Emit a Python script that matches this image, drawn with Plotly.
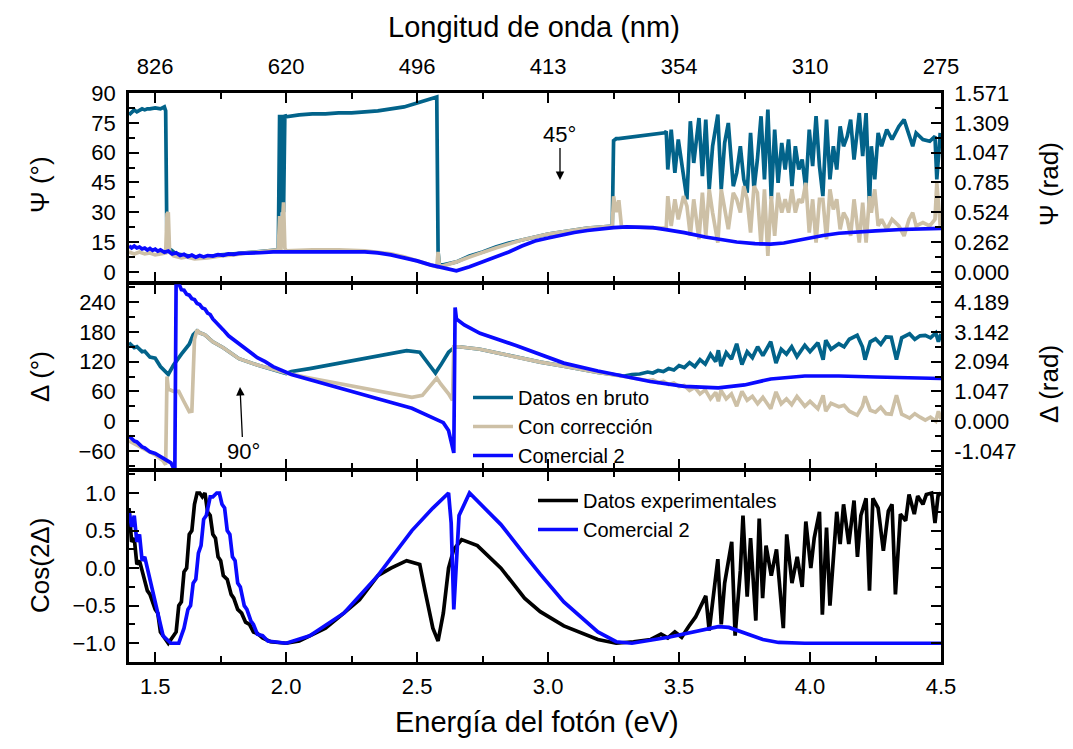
import plotly.graph_objects as go
import math

# ---------------- data ----------------
# Top panel: Psi (degrees)
psi_raw_E = [1.40, 1.41, 1.42, 1.43, 1.44, 1.45, 1.46, 1.47, 1.48, 1.50, 1.52, 1.535, 1.54, 1.545, 1.55,
             1.56, 1.58, 1.60, 1.65, 1.70, 1.75, 1.80, 1.85, 1.90, 1.95, 1.97, 1.975, 1.98, 1.985, 1.99, 1.995,
             2.00, 2.05, 2.10, 2.15, 2.20, 2.25, 2.30, 2.35, 2.40, 2.45, 2.50, 2.55, 2.575, 2.58, 2.585,
             2.60, 2.65, 2.70, 2.75, 2.80, 2.85, 2.90, 2.95, 3.00, 3.05, 3.10, 3.15, 3.20, 3.245, 3.25,
             3.26, 3.27, 3.30, 3.35, 3.40, 3.445,
             3.451, 3.457, 3.470, 3.484, 3.497, 3.517, 3.530, 3.543, 3.556, 3.576, 3.589, 3.602, 3.615, 3.628,
             3.648, 3.661, 3.674, 3.688, 3.707, 3.720, 3.734, 3.747, 3.760, 3.773, 3.786, 3.799, 3.813, 3.826,
             3.839, 3.852, 3.865, 3.878, 3.892, 3.905, 3.918, 3.931, 3.944, 3.957, 3.970, 3.984, 3.997, 4.010,
             4.023, 4.036, 4.049, 4.063, 4.076, 4.089, 4.102, 4.115, 4.128, 4.142, 4.155, 4.168, 4.188, 4.201,
             4.214, 4.227, 4.234, 4.247, 4.260, 4.273, 4.293, 4.313, 4.339, 4.359, 4.378, 4.392, 4.405, 4.431,
             4.457, 4.477, 4.484, 4.497]
psi_raw = [79, 80, 81.5, 80.5, 81, 82, 81.5, 82, 82, 82.5, 82, 83, 81, 12, 11,
           11, 9, 8.5, 7.5, 7.5, 8.5, 9, 9.5, 10, 10.5, 11, 79, 30, 79, 30, 79,
           78, 79, 79.5, 79.5, 80, 80, 80.5, 81, 82, 83, 85, 87, 88, 10, 3.5,
           3.5, 5, 8, 10, 12.5, 14.5, 16, 17.5, 19, 20, 21, 22, 22.5, 23, 66,
           67, 67, 67.5, 68, 69, 70,
           70.7, 51.5, 71.6, 49.8, 66.6, 46.5, 36.5, 75.8, 54.8, 77.4, 48.2, 76.6, 41.5, 63.2,
           79.1, 41.5, 64.9, 74.9, 43.1, 49.8, 63.2, 46.5, 39.8, 69.9, 41.5, 56.5, 78.3, 46.5,
           81.6, 36.5, 71.6, 44.8, 64.9, 51.5, 66.6, 43.1, 63.2, 51.5, 56.5, 41.5, 71.6, 53.2,
           78.3, 53.2, 38.1, 76.6, 46.5, 63.2, 51.5, 73.2, 63.2, 68.2, 76.6, 56.5, 79.9, 58.2,
           79.9, 33.1, 63.2, 46.5, 69.9, 63.2, 71.6, 66.6, 73.2, 76.6, 68.2, 63.2, 69.9, 66.6,
           65.7, 68.2, 46.5, 69.9]

psi_cor_E = [1.40, 1.42, 1.44, 1.46, 1.48, 1.50, 1.52, 1.54, 1.545, 1.55, 1.555, 1.57, 1.60, 1.62, 1.65,
             1.70, 1.75, 1.80, 1.85, 1.90, 1.95, 1.97, 1.975, 1.98, 1.99, 1.995, 2.00, 2.10, 2.20, 2.30,
             2.40, 2.45, 2.50, 2.55, 2.575, 2.58, 2.585, 2.60, 2.65, 2.70, 2.75, 2.80, 2.85, 2.90, 2.95,
             3.00, 3.05, 3.10, 3.15, 3.20, 3.245, 3.25, 3.26, 3.27, 3.28, 3.30, 3.35, 3.40, 3.445,
             3.451, 3.457, 3.470, 3.484, 3.497, 3.517, 3.530, 3.543, 3.556, 3.576, 3.589, 3.602, 3.615, 3.628,
             3.648, 3.661, 3.674, 3.688, 3.707, 3.720, 3.734, 3.747, 3.760, 3.773, 3.786, 3.799, 3.813, 3.826,
             3.839, 3.852, 3.865, 3.878, 3.892, 3.905, 3.918, 3.931, 3.944, 3.957, 3.970, 3.984, 3.997, 4.010,
             4.023, 4.036, 4.049, 4.063, 4.076, 4.089, 4.102, 4.115, 4.128, 4.142, 4.155, 4.168, 4.188, 4.201,
             4.214, 4.227, 4.234, 4.247, 4.260, 4.273, 4.293, 4.313, 4.339, 4.359, 4.378, 4.392, 4.405, 4.431,
             4.457, 4.477, 4.484, 4.497]
psi_cor = [10, 9, 10, 9, 9.5, 8.5, 9, 9.5, 29, 30, 10, 8, 7, 7.5, 6.5,
           7, 8, 8.5, 9.5, 10, 10.5, 11, 28, 11, 35, 12, 10.5, 11, 11, 10.5,
           9, 7.5, 5.5, 3.5, 2.5, 10, 3, 3, 5, 7.5, 10, 12, 14, 16, 17.5,
           19, 20, 21, 22, 22.5, 23, 38, 30, 36, 23, 22.5, 22.5, 22, 22,
           22, 38.1, 23.1, 36.5, 26.4, 38.1, 33.1, 18.1, 36.5, 16.4, 39.8, 18.1, 41.5, 29.8,
           14.7, 41.5, 31.4, 21.4, 39.8, 36.5, 29.8, 43.1, 36.5, 19.7, 43.1, 39.8, 13.0, 41.5,
           8.0, 38.1, 18.1, 39.8, 29.8, 36.5, 29.8, 41.5, 29.8, 36.5, 34.8, 44.8, 19.7, 36.5,
           14.7, 36.5, 36.5, 16.4, 41.5, 31.4, 36.5, 21.4, 29.8, 26.4, 18.1, 36.5, 14.7, 34.8,
           14.7, 38.1, 29.8, 41.5, 23.1, 26.4, 21.4, 26.4, 23.1, 18.1, 26.4, 29.8, 23.1, 24.8,
           23.1, 26.4, 44.8, 23.1]

psi_com_E = [1.40, 1.41, 1.42, 1.43, 1.44, 1.45, 1.46, 1.47, 1.48, 1.49, 1.50, 1.51, 1.52, 1.535, 1.55,
             1.565, 1.58, 1.595, 1.61, 1.625, 1.64, 1.655, 1.67, 1.685, 1.70, 1.72, 1.74, 1.76, 1.78,
             1.80, 1.82, 1.85, 1.90, 1.95, 2.00, 2.10, 2.20, 2.30, 2.35, 2.40, 2.45, 2.50, 2.55, 2.60,
             2.65, 2.70, 2.75, 2.80, 2.85, 2.90, 2.95, 3.00, 3.05, 3.10, 3.15, 3.20, 3.25, 3.30, 3.35,
             3.40, 3.45, 3.52, 3.60, 3.65, 3.72, 3.79, 3.85, 3.90, 3.98, 4.05, 4.11, 4.20, 4.25, 4.35,
             4.45, 4.50]
psi_com = [13, 12, 13, 12, 12.5, 11.5, 12, 11, 11.8, 10.8, 11.4, 10.4, 11, 9.8, 10.4,
           9, 9.6, 8.2, 8.8, 7.6, 8.4, 7.4, 8.2, 7.5, 8.2, 7.9, 8.6, 8.3, 9,
           8.8, 9.3, 9.3, 9.6, 10, 10, 10.3, 10.3, 10, 9.5, 8.5, 7, 5.5, 3.5, 2,
           0.5, 2.5, 5, 7.5, 10, 13, 15.5, 17, 18.5, 19.8, 20.8, 21.6, 22.2, 22.6, 22.5,
           22.2, 21.2, 19.7, 17.5, 16.4, 15, 14.2, 13.9, 14.5, 16.7, 18.3, 19.4, 20.3, 20.6, 21.3,
           21.8, 21.9]

# Middle panel: Delta (degrees)
del_raw_E = [1.40, 1.42, 1.43, 1.45, 1.46, 1.48, 1.50, 1.52, 1.55, 1.57, 1.60, 1.63, 1.645, 1.66, 1.67,
             1.69, 1.72, 1.76, 1.82, 1.89, 2.00, 2.02, 2.09, 2.22, 2.35, 2.46, 2.51, 2.55, 2.57, 2.59,
             2.62, 2.645, 2.66, 2.74, 2.88, 2.97, 3.06, 3.19,
             3.29, 3.32, 3.35, 3.38, 3.40, 3.42, 3.44, 3.46, 3.48, 3.50, 3.52, 3.54, 3.56, 3.58, 3.60,
             3.62, 3.64, 3.65, 3.66, 3.68, 3.70, 3.72, 3.74, 3.76, 3.78, 3.80, 3.82, 3.85, 3.87, 3.89,
             3.91, 3.93, 3.95, 3.98, 4.00, 4.03, 4.05, 4.06, 4.08, 4.11, 4.13, 4.15, 4.18, 4.20, 4.21,
             4.23, 4.25, 4.27, 4.29, 4.31, 4.33, 4.35, 4.38, 4.40, 4.42, 4.44, 4.46, 4.48, 4.49, 4.50]
del_raw = [158, 148, 150, 140, 141, 129, 127, 110, 94, 113, 135, 155, 174, 182, 178,
           174, 160, 148, 126, 113, 96, 100, 106, 119, 132, 142, 139, 110, 97, 113,
           139, 150, 150, 145, 129, 119, 111, 98,
           91, 94, 95, 99, 97, 102, 100, 106, 103, 112, 108, 118, 110, 124, 115,
           135, 120, 143, 111, 138, 125, 156, 114, 140, 128, 150, 132, 160, 117, 145,
           135, 150, 130, 153, 140, 158, 124, 163, 145, 156, 150, 165, 173, 150, 124,
           160, 166, 155, 170, 169, 124, 168, 176, 165, 172, 173, 168, 178, 160, 176]

del_cor_E = [1.40, 1.45, 1.50, 1.53, 1.54, 1.545, 1.55, 1.57, 1.59, 1.61, 1.63, 1.64, 1.645, 1.65, 1.66,
             1.67, 1.69, 1.72, 1.76, 1.82, 1.89, 2.00, 2.09, 2.22, 2.35, 2.45, 2.48, 2.52, 2.555, 2.575,
             2.59, 2.62, 2.635, 2.64, 2.66, 2.74, 2.88, 2.97, 3.06, 3.19,
             3.29, 3.32, 3.35, 3.38, 3.40, 3.42, 3.44, 3.46, 3.48, 3.50, 3.52, 3.54, 3.56, 3.58, 3.60,
             3.62, 3.64, 3.65, 3.66, 3.68, 3.70, 3.72, 3.74, 3.76, 3.78, 3.80, 3.82, 3.85, 3.87, 3.89,
             3.91, 3.93, 3.95, 3.98, 4.00, 4.03, 4.05, 4.06, 4.08, 4.11, 4.13, 4.15, 4.18, 4.20, 4.21,
             4.23, 4.25, 4.27, 4.29, 4.31, 4.33, 4.35, 4.38, 4.40, 4.42, 4.44, 4.46, 4.48, 4.49, 4.50]
del_cor = [-40, -55, -68, -80, -88, 90, 65, 60, 60, 39, 19, 20, 110, 165, 184,
           178, 174, 160, 148, 126, 113, 97, 87, 74, 61, 50, 48, 52, 75, 87,
           75, 55, 42, 150, 150, 145, 129, 119, 111, 98,
           90, 87, 84, 82, 83, 78, 80, 74, 77, 70, 72, 62, 68, 55, 63,
           45, 58, 40, 62, 45, 55, 30, 60, 42, 50, 35, 48, 25, 59, 35,
           45, 33, 50, 30, 40, 25, 52, 20, 36, 29, 32, 20, 12, 30, 50,
           22, 18, 28, 15, 14, 52, 14, 6, 15, 8, 2, 8, 0, 20, 4]

del_com_E = [1.40, 1.42, 1.43, 1.45, 1.46, 1.48, 1.50, 1.52, 1.53, 1.56, 1.575, 1.58, 1.60, 1.61, 1.62,
             1.63, 1.64, 1.65, 1.66, 1.67, 1.68, 1.69, 1.70, 1.71, 1.72, 1.74, 1.76, 1.78, 1.79, 1.82,
             1.84, 1.86, 1.89, 1.92, 1.95, 2.02, 2.09, 2.22, 2.35, 2.48, 2.56, 2.60, 2.62, 2.635, 2.64,
             2.645, 2.65, 2.68, 2.74, 2.88, 2.97, 3.06, 3.19, 3.29, 3.39, 3.52, 3.65, 3.75, 3.85, 3.98,
             4.11, 4.25, 4.50]
del_com = [-30, -40, -42, -52, -54, -62, -65, -72, -75, -84, -100, 290, 265, 264, 256,
           254, 247, 245, 237, 235, 228, 226, 218, 215, 206, 196, 184, 172, 168, 154,
           148, 138, 128, 120, 110, 94, 84, 65, 45, 26, 6, -3, -19, -58, -64,
           229, 206, 194, 177, 152, 134, 117, 101, 91, 80, 70, 67, 73, 85, 91,
           91, 89, 86]

# Bottom panel: cos(2 Delta)
cos_exp_E = [1.40, 1.41, 1.42, 1.43, 1.44, 1.45, 1.47, 1.48, 1.50, 1.51, 1.52, 1.53, 1.55, 1.57, 1.58,
             1.59, 1.60, 1.61, 1.62, 1.63, 1.64, 1.65, 1.66, 1.67, 1.68, 1.69, 1.70, 1.71, 1.72, 1.73,
             1.74, 1.75, 1.76, 1.775, 1.79, 1.80, 1.815, 1.83, 1.845, 1.86, 1.875, 1.89, 1.91, 1.94,
             2.00, 2.05, 2.09, 2.15, 2.22, 2.28, 2.35, 2.40, 2.46, 2.51, 2.53, 2.56, 2.58, 2.60,
             2.62, 2.64, 2.67, 2.73, 2.82, 2.91, 2.97, 3.06, 3.19, 3.26, 3.326, 3.392, 3.431, 3.457,
             3.484, 3.510, 3.536, 3.563, 3.602, 3.615, 3.648, 3.661, 3.674, 3.701, 3.714, 3.734, 3.744,
             3.760, 3.773, 3.793, 3.806, 3.819, 3.832, 3.852, 3.872, 3.898, 3.911, 3.931, 3.951, 3.970,
             3.984, 4.003, 4.016, 4.036, 4.047, 4.063, 4.076, 4.089, 4.102, 4.115, 4.128, 4.148, 4.168,
             4.181, 4.194, 4.214, 4.227, 4.240, 4.260, 4.280, 4.299, 4.313, 4.326, 4.345, 4.365, 4.378,
             4.398, 4.411, 4.431, 4.444, 4.464, 4.477, 4.490, 4.50]
cos_exp = [0.8, 0.35, 0.4, 0.05, 0.1, -0.05, -0.3, -0.35, -0.55, -0.6, -0.85, -0.9, -1.0, -0.9, -0.85,
           -0.5, -0.45, -0.05, 0.0, 0.45, 0.5, 0.85, 1.0, 1.0, 0.95, 1.0, 0.75, 0.7, 0.45, 0.4,
           0.15, 0.1, -0.1, -0.15, -0.35, -0.4, -0.55, -0.6, -0.72, -0.75, -0.85, -0.87, -0.93, -0.98,
           -1.0, -0.97, -0.9, -0.8, -0.6, -0.42, -0.1, 0.0, 0.1, 0.05, -0.3, -0.8, -0.97, -0.6,
           0.0, 0.25, 0.38, 0.3, 0.0, -0.4, -0.58, -0.77, -0.95, -1.0, -0.98, -0.95, -0.88, -0.93,
           -0.85, -0.92, -0.78, -0.65, -0.37, -0.83, 0.12, -0.75, -0.2, 0.35, -0.9, -0.03, 0.7,
           -0.38, 0.4, -0.7, 0.66, -0.4, 0.3, -0.1, 0.25, -0.8, 0.45, -0.2, 0.15, -0.25,
           0.62, 0.0, 0.4, 0.75, -0.62, 0.54, -0.5, 0.2, 0.75, 0.32, 0.85, 0.32, 0.9,
           0.15, 0.7, 0.93, -0.3, 0.93, 0.8, 0.23, 0.76, 0.85, -0.35, 0.72, 0.63, 0.98,
           0.72, 0.96, 0.85, 0.98, 1.0, 0.6, 1.0, 0.97]

cos_com_E = [1.40, 1.41, 1.42, 1.43, 1.44, 1.45, 1.46, 1.48, 1.50, 1.51, 1.53, 1.56, 1.59, 1.61, 1.625,
             1.635, 1.645, 1.655, 1.665, 1.675, 1.685, 1.695, 1.71, 1.72, 1.735, 1.745, 1.755, 1.765,
             1.775, 1.785, 1.795, 1.805, 1.815, 1.825, 1.84, 1.85, 1.865, 1.875, 1.89, 1.91, 1.93,
             2.00, 2.09, 2.22, 2.35, 2.48, 2.56, 2.62, 2.63, 2.64, 2.66, 2.70,
             2.82, 2.91, 2.97, 3.06, 3.19, 3.26, 3.32, 3.46, 3.59, 3.65, 3.69, 3.75, 3.82, 3.88, 3.98,
             4.50]
cos_com = [0.75, 0.55, 0.7, 0.35, 0.45, 0.1, 0.15, -0.15, -0.45, -0.6, -0.9, -1.0, -1.0, -0.8, -0.55,
           -0.5, -0.2, -0.15, 0.2, 0.3, 0.65, 0.7, 0.95, 0.95, 1.0, 1.0, 0.85, 0.8,
           0.5, 0.45, 0.15, 0.1, -0.2, -0.25, -0.5, -0.55, -0.7, -0.75, -0.88, -0.9, -0.97,
           -1.0, -0.9, -0.6, -0.1, 0.5, 0.8, 1.0, 0.6, -0.55, 0.7, 1.0,
           0.58, 0.18, -0.08, -0.45, -0.85, -0.98, -1.0, -0.92, -0.82, -0.78, -0.79, -0.86, -0.95, -0.99, -1.0,
           -1.0]

# tick labels
energy_ticks = [1.5, 2.0, 2.5, 3.0, 3.5, 4.0, 4.5]
wavelength_labels = ["826", "620", "496", "413", "354", "310", "275"]
psi_rad_deg = [0, 15, 30, 45, 60, 75, 90]
psi_rad_labels = ["0.000", "0.262", "0.524", "0.785", "1.047", "1.309", "1.571"]
del_rad_deg = [-60, 0, 60, 120, 180, 240]
del_rad_labels = ["-1.047", "0.000", "1.047", "2.094", "3.142", "4.189"]

# ---------------- styling ----------------
FONT = "Liberation Sans, Arial, sans-serif"
C_RAW = "#02638a"
C_COR = "#cdc0a6"
C_COM = "#0a0aff"
LW = 3.7
AXW = 2.5

W, H = 1073, 749
XL, XR = 129 / W, 941 / W
def py(p):
    return 1 - p / H

# panel pixel boundaries (top/bottom of the plotting areas)
Y_TOP = (py(283 - AXW / 2), py(93))
Y_MID = (py(470 - AXW / 2), py(283 + AXW / 2))
Y_BOT = (py(662), py(470 + AXW / 2))
XR_RANGE = [1.4, 4.5]
PSI_RANGE = [-5, 90]
DEL_RANGE = [-96, 276]
COS_RANGE = [-1.25, 1.29]
d2r = math.pi / 180

psi_com_rad = [v * d2r for v in psi_com]
del_com_rad = [v * d2r for v in del_com]

fig = go.Figure()
# top panel
fig.add_trace(go.Scatter(x=psi_raw_E, y=psi_raw, mode="lines", line=dict(color=C_RAW, width=LW),
                         xaxis="x", yaxis="y", showlegend=False))
fig.add_trace(go.Scatter(x=psi_cor_E, y=psi_cor, mode="lines", line=dict(color=C_COR, width=LW),
                         xaxis="x", yaxis="y", showlegend=False))
fig.add_trace(go.Scatter(x=psi_com_E, y=psi_com_rad, mode="lines", line=dict(color=C_COM, width=LW),
                         xaxis="x4", yaxis="y4", showlegend=False))
# middle panel
fig.add_trace(go.Scatter(x=del_raw_E, y=del_raw, mode="lines", line=dict(color=C_RAW, width=LW),
                         xaxis="x2", yaxis="y2", name="Datos en bruto", legend="legend"))
fig.add_trace(go.Scatter(x=del_cor_E, y=del_cor, mode="lines", line=dict(color=C_COR, width=LW),
                         xaxis="x2", yaxis="y2", name="Con corrección", legend="legend"))
fig.add_trace(go.Scatter(x=del_com_E, y=del_com_rad, mode="lines", line=dict(color=C_COM, width=LW),
                         xaxis="x2", yaxis="y5", name="Comercial 2", legend="legend"))
# bottom panel
fig.add_trace(go.Scatter(x=cos_exp_E, y=cos_exp, mode="lines", line=dict(color="black", width=LW),
                         xaxis="x3", yaxis="y3", name="Datos experimentales", legend="legend2"))
fig.add_trace(go.Scatter(x=cos_com_E, y=cos_com, mode="lines", line=dict(color=C_COM, width=LW),
                         xaxis="x3", yaxis="y3", name="Comercial 2", legend="legend2"))

tickfont = dict(family=FONT, size=22, color="black")
minor_x = dict(ticks="inside", ticklen=6, tickwidth=2, tickcolor="black", dtick=0.25, tick0=1.5,
               showgrid=False)
common_x = dict(range=XR_RANGE, domain=[XL, XR], showline=True, linewidth=AXW, linecolor="black",
                mirror="ticks", ticks="inside", ticklen=10, tickwidth=2, tickcolor="black",
                tick0=1.5, dtick=0.5, showgrid=False, zeroline=False, tickfont=tickfont,
                tickformat=".1f", automargin=False, minor=minor_x)
common_y = dict(showline=True, linewidth=AXW, linecolor="black", ticks="inside", ticklen=10,
                tickwidth=2, tickcolor="black", showgrid=False, zeroline=False, tickfont=tickfont,
                ticklabelstandoff=6, automargin=False)

def minor_y(step):
    return dict(ticks="inside", ticklen=6, tickwidth=2, tickcolor="black", dtick=step, tick0=0,
                showgrid=False)

fig.update_layout(
    template="none",
    width=W, height=H, margin=dict(l=0, r=0, t=0, b=0, pad=0), autosize=False,
    paper_bgcolor="white", plot_bgcolor="white",
    font=dict(family=FONT, color="black"),
    xaxis=dict(common_x, anchor="y", showticklabels=False),
    xaxis2=dict(common_x, anchor="y2", showticklabels=False, matches="x"),
    xaxis3=dict(common_x, anchor="y3", showticklabels=True, ticklabelstandoff=3, matches="x"),
    xaxis4=dict(range=XR_RANGE, domain=[XL, XR], overlaying="x", anchor="y", side="top",
                tickmode="array", tickvals=energy_ticks, ticktext=wavelength_labels,
                ticks="", showline=False, showgrid=False, zeroline=False, tickfont=tickfont,
                ticklabelstandoff=14, automargin=False),
    yaxis=dict(common_y, domain=list(Y_TOP), range=PSI_RANGE, anchor="x", tick0=0, dtick=15, mirror=True,
               minor=minor_y(7.5)),
    yaxis4=dict(common_y, overlaying="y", side="right", anchor="x",
                range=[PSI_RANGE[0] * d2r, PSI_RANGE[1] * d2r],
                tickmode="array", tickvals=[v * d2r for v in psi_rad_deg], ticktext=psi_rad_labels,
                minor=minor_y(7.5 * d2r)),
    yaxis2=dict(common_y, domain=list(Y_MID), range=DEL_RANGE, anchor="x2", tick0=0, dtick=60, mirror=True,
                minor=minor_y(30)),
    yaxis5=dict(common_y, overlaying="y2", side="right", anchor="x2",
                range=[DEL_RANGE[0] * d2r, DEL_RANGE[1] * d2r],
                tickmode="array", tickvals=[v * d2r for v in del_rad_deg], ticktext=del_rad_labels,
                minor=minor_y(30 * d2r)),
    yaxis3=dict(common_y, domain=list(Y_BOT), range=COS_RANGE, anchor="x3", tick0=0, dtick=0.5,
                tickformat=".1f", mirror="ticks", minor=minor_y(0.25)),
    legend=dict(x=468 / W, y=py(378), xanchor="left", yanchor="top", bgcolor="rgba(0,0,0,0)",
                borderwidth=0, font=dict(family=FONT, size=20, color="black"), tracegroupgap=0,
                itemwidth=40),
    legend2=dict(x=533 / W, y=py(481), xanchor="left", yanchor="top", bgcolor="rgba(0,0,0,0)",
                 borderwidth=0, font=dict(family=FONT, size=20, color="black"), itemwidth=40),
)

def label(x, y, text, size, angle=0):
    fig.add_annotation(x=x / W, y=py(y), xref="paper", yref="paper", text=text, textangle=angle,
                       xanchor="center", yanchor="middle", showarrow=False,
                       font=dict(family=FONT, size=size, color="black"))

label(534, 27, "Longitud de onda (nm)", 29)
label(537, 722, "Energía del fotón (eV)", 29)
label(40, 185, "Ψ (°)", 26, -90)
label(40, 377, "Δ (°)", 26, -90)
label(40, 566, "Cos(2Δ)", 26, -90)
label(1049, 184, "Ψ (rad)", 26, -90)
label(1049, 384, "Δ (rad)", 26, -90)

# arrows
fig.add_annotation(x=560 / W, y=py(180), xref="paper", yref="paper", text="45°", showarrow=True,
                   ax=0, ay=-46, arrowhead=2, arrowsize=1.3, arrowwidth=1.3, arrowcolor="black",
                   font=dict(family=FONT, size=22, color="black"))
fig.add_annotation(x=240 / W, y=py(387), xref="paper", yref="paper", text="90°", showarrow=True,
                   ax=3, ay=64, arrowhead=2, arrowsize=1.3, arrowwidth=1.3, arrowcolor="black",
                   font=dict(family=FONT, size=22, color="black"))

fig.write_html("out.html")
